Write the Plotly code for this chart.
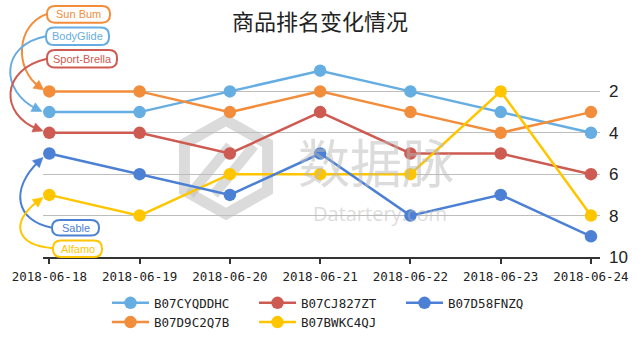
import math
import plotly.graph_objects as go

# ---------------- data ----------------
dates = ['2018-06-18', '2018-06-19', '2018-06-20', '2018-06-21',
         '2018-06-22', '2018-06-23', '2018-06-24']
rank_B07CYQDDHC = [3, 3, 2, 1, 2, 3, 4]
rank_B07D9C2Q7B = [2, 2, 3, 2, 3, 4, 3]
rank_B07CJ827ZT = [4, 4, 5, 3, 5, 5, 6]
rank_B07BWKC4QJ = [7, 8, 6, 6, 6, 2, 8]
rank_B07D58FNZQ = [5, 6, 7, 5, 8, 7, 9]
y_ticks = [2, 4, 6, 8, 10]

C_LBLUE = '#66ADE2'
C_ORANGE = '#F28D3B'
C_RED = '#CD5B51'
C_BLUE = '#4B80D4'
C_YELLOW = '#FFC600'

series = [
    ('B07CYQDDHC', rank_B07CYQDDHC, C_LBLUE, 'legend'),
    ('B07D9C2Q7B', rank_B07D9C2Q7B, C_ORANGE, 'legend'),
    ('B07CJ827ZT', rank_B07CJ827ZT, C_RED, 'legend2'),
    ('B07BWKC4QJ', rank_B07BWKC4QJ, C_YELLOW, 'legend2'),
    ('B07D58FNZQ', rank_B07D58FNZQ, C_BLUE, 'legend3'),
]

W, H = 640, 349
ML, MR, MT, MB = 43, 40, 50, 87
PW, PH = W - ML - MR, H - MT - MB


def px(x):
    return (x - ML) / PW


def py(y):
    return 1 - (y - MT) / PH


def P(x, y):
    return f"{px(x):.5f},{py(y):.5f}"


fig = go.Figure()
for name, vals, col, lg in series:
    fig.add_trace(go.Scatter(
        x=dates, y=vals, name=name, mode='lines+markers',
        line=dict(color=col, width=2.5),
        marker=dict(color=col, size=12.5),
        legend=lg,
    ))

shapes = []
annotations = []

# ---------- watermark ----------
wm = 'rgba(190,190,190,0.55)'
cx, cy, r = 226, 170, 48
hexpts = [(cx + r * math.cos(math.radians(a)), cy + r * math.sin(math.radians(a)))
          for a in (-90, -30, 30, 90, 150, 210)]
path = 'M ' + ' L '.join(P(x, y) for x, y in hexpts) + ' Z'
shapes.append(dict(type='path', path=path, xref='paper', yref='paper',
                   line=dict(color=wm, width=11), layer='below'))
for off in (-14, 10):
    shapes.append(dict(type='path', xref='paper', yref='paper',
                       path=f"M {P(cx - 22 + off, cy + 28)} L {P(cx + 18 + off, cy - 22)}",
                       line=dict(color=wm, width=10), layer='below'))
annotations.append(dict(text='数据脉', x=px(376), y=py(163), xref='paper', yref='paper',
                        xanchor='center', yanchor='middle',
                        showarrow=False, font=dict(family='Noto Sans CJK SC', size=52,
                                                   color='rgba(185,185,185,0.5)')))
annotations.append(dict(text='Datartery.com', x=px(380), y=py(217), xref='paper', yref='paper',
                        xanchor='center', yanchor='middle',
                        showarrow=False, font=dict(family='Open Sans', size=20,
                                                   color='rgba(185,185,185,0.5)')))

# ---------- callout labels with curved arrows ----------
labels = [
    # text, color, box (x0,y0,x1,y1), curve start, c1, c2, tip
    ('Sun Bum', C_ORANGE, (47, 5, 110, 22), (47, 13), (15, 25), (15, 70), (44, 91)),
    ('BodyGlide', C_LBLUE, (46, 27, 109, 45), (46, 36), (0, 45), (0, 92), (42, 113)),
    ('Sport-Brella', C_RED, (47, 50, 117, 68), (47, 59), (0, 70), (0, 116), (43, 133)),
    ('Sable', C_BLUE, (52, 224, 99, 240), (52, 232), (15, 225), (10, 192), (43, 160)),
    ('Alfamo', C_YELLOW, (53, 245, 102, 262), (53, 253), (15, 250), (10, 226), (43, 201)),
]


def rrect(x0, y0, x1, y1, rr):
    return (f"M {P(x0 + rr, y0)} L {P(x1 - rr, y0)} Q {P(x1, y0)} {P(x1, y0 + rr)} "
            f"L {P(x1, y1 - rr)} Q {P(x1, y1)} {P(x1 - rr, y1)} "
            f"L {P(x0 + rr, y1)} Q {P(x0, y1)} {P(x0, y1 - rr)} "
            f"L {P(x0, y0 + rr)} Q {P(x0, y0)} {P(x0 + rr, y0)} Z")


for text, col, box, s, c1, c2, tip in labels:
    dx, dy = tip[0] - c2[0], tip[1] - c2[1]
    L = math.hypot(dx, dy)
    ux, uy = dx / L, dy / L
    end = (tip[0] - 6 * ux, tip[1] - 6 * uy)
    shapes.append(dict(type='path', xref='paper', yref='paper',
                       path=f"M {P(*s)} C {P(*c1)} {P(*c2)} {P(*end)}",
                       line=dict(color=col, width=2)))
    base = (tip[0] - 10 * ux, tip[1] - 10 * uy)
    nx, ny = -uy, ux
    a = (base[0] + 5 * nx, base[1] + 5 * ny)
    b = (base[0] - 5 * nx, base[1] - 5 * ny)
    shapes.append(dict(type='path', xref='paper', yref='paper',
                       path=f"M {P(*tip)} L {P(*a)} L {P(*b)} Z",
                       fillcolor=col, line=dict(color=col, width=0.5)))
    x0, y0, x1, y1 = box
    shapes.append(dict(type='path', xref='paper', yref='paper',
                       path=rrect(x0, y0, x1, y1, 8),
                       fillcolor='white', line=dict(color=col, width=2)))
    annotations.append(dict(text=text, x=px((x0 + x1) / 2), y=py((y0 + y1) / 2),
                            xref='paper', yref='paper', showarrow=False,
                            xanchor='center', yanchor='middle',
                            font=dict(family='Liberation Sans', size=11, color=col)))

leg_font = dict(family='DejaVu Sans Mono', size=12.5, color='#222')


def leg(xpix):
    return dict(orientation='v', x=px(xpix), y=py(294), xanchor='left', yanchor='top',
                itemwidth=37, tracegroupgap=0, bgcolor='rgba(0,0,0,0)', font=leg_font)


fig.update_layout(
    width=W, height=H,
    margin=dict(l=ML, r=MR, t=MT, b=MB),
    paper_bgcolor='white', plot_bgcolor='white',
    title=dict(text='商品排名变化情况', x=0.5, xanchor='center', y=1 - 22 / H,
               yanchor='middle', font=dict(family='Noto Sans CJK SC', size=22, color='#222')),
    xaxis=dict(type='category', range=[-0.07, 6.1], showgrid=False,
               showline=True, linecolor='#333', linewidth=1.5,
               ticks='outside', ticklen=5, tickcolor='#333', tickwidth=1.5,
               ticklabelstandoff=2,
               tickfont=dict(family='DejaVu Sans Mono', size=12.5, color='#222')),
    yaxis=dict(range=[10, 0], side='right', tickvals=y_ticks, showgrid=True,
               gridcolor='#bdbdbd', gridwidth=1.3, zeroline=False, showline=False,
               ticklabelstandoff=8,
               tickfont=dict(family='Liberation Sans', size=17, color='#222')),
    legend=leg(107),
    legend2=leg(254),
    legend3=leg(401),
    shapes=shapes,
    annotations=annotations,
    showlegend=True,
)

fig.write_html('out.html')
